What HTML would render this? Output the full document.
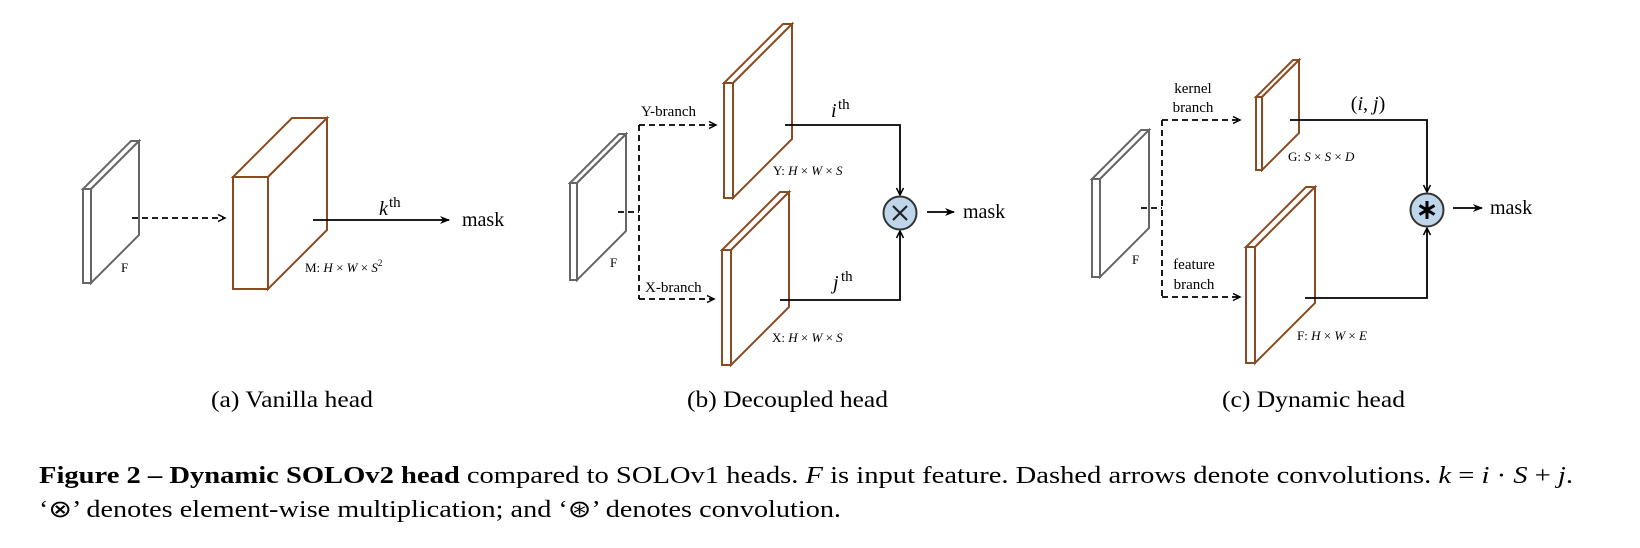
<!DOCTYPE html>
<html><head><meta charset="utf-8"><style>
html,body{margin:0;padding:0;background:#fff;}
svg{display:block;}
text{font-family:"Liberation Serif","Times New Roman",serif;fill:#000;}
.it{font-style:italic;}
</style></head><body>
<svg width="1640" height="548" viewBox="0 0 1640 548" xmlns="http://www.w3.org/2000/svg">
<defs>
<marker id="ah" markerWidth="10" markerHeight="10" refX="8" refY="5" orient="auto" markerUnits="userSpaceOnUse">
<path d="M1,1.5 L8,5 L1,8.5" fill="none" stroke="#000" stroke-width="1.5"/>
</marker>
<marker id="ahf" markerWidth="12" markerHeight="10" refX="9" refY="5" orient="auto" markerUnits="userSpaceOnUse">
<path d="M0,1 L10,5 L0,9 L3,5 Z" fill="#000"/>
</marker>
</defs>
<g fill="#fff" stroke-width="2" stroke-linejoin="miter">
<g stroke="#666"><polygon points="83,189 91,189 139,141 131,141"/><polygon points="91,189 139,141 139,235 91,283"/><rect x="83" y="189" width="8" height="94"/></g>
<g stroke="#8a4a22"><polygon points="233,177 268,177 327,118 292,118"/><polygon points="268,177 327,118 327,230 268,289"/><rect x="233" y="177" width="35" height="112"/></g>
<g stroke="#666"><polygon points="570,183 577,183 626,134 619,134"/><polygon points="577,183 626,134 626,231 577,280"/><rect x="570" y="183" width="7" height="97"/></g>
<g stroke="#8a4a22"><polygon points="724,83 733,83 792,24 783,24"/><polygon points="733,83 792,24 792,139 733,198"/><rect x="724" y="83" width="9" height="115"/></g>
<g stroke="#8a4a22"><polygon points="722,250 731,250 789,192 780,192"/><polygon points="731,250 789,192 789,307 731,365"/><rect x="722" y="250" width="9" height="115"/></g>
<g stroke="#666"><polygon points="1092,179 1100,179 1149,130 1141,130"/><polygon points="1100,179 1149,130 1149,228 1100,277"/><rect x="1092" y="179" width="8" height="98"/></g>
<g stroke="#8a4a22"><polygon points="1256,97 1262,97 1299,60 1293,60"/><polygon points="1262,97 1299,60 1299,133 1262,170"/><rect x="1256" y="97" width="6" height="73"/></g>
<g stroke="#8a4a22"><polygon points="1246,247 1255,247 1315,187 1306,187"/><polygon points="1255,247 1315,187 1315,303 1255,363"/><rect x="1246" y="247" width="9" height="116"/></g>
</g>

<g fill="none" stroke="#000" stroke-width="1.8">
<line x1="132" y1="218" x2="225" y2="218" stroke-dasharray="6,4" marker-end="url(#ah)"/>
<line x1="313" y1="220" x2="449" y2="220" marker-end="url(#ahf)"/>
<path d="M618,212 H639 M639,125 V299" stroke-dasharray="6,4"/>
<line x1="639" y1="125" x2="716" y2="125" stroke-dasharray="6,4" marker-end="url(#ah)"/>
<line x1="639" y1="299" x2="714" y2="299" stroke-dasharray="6,4" marker-end="url(#ah)"/>
<path d="M785,125 H900 V195" marker-end="url(#ah)"/>
<path d="M780,300 H900 V231" marker-end="url(#ah)"/>
<line x1="927" y1="212" x2="954" y2="212" marker-end="url(#ahf)"/>
<path d="M1141,208 H1162 M1162,120 V297" stroke-dasharray="6,4"/>
<line x1="1162" y1="120" x2="1240" y2="120" stroke-dasharray="6,4" marker-end="url(#ah)"/>
<line x1="1162" y1="297" x2="1240" y2="297" stroke-dasharray="6,4" marker-end="url(#ah)"/>
<path d="M1290,120 H1427 V192" marker-end="url(#ah)"/>
<path d="M1305,298 H1427 V228" marker-end="url(#ah)"/>
<line x1="1453" y1="208" x2="1482" y2="208" marker-end="url(#ahf)"/>
</g>

<circle cx="900" cy="213" r="16.5" fill="#bed5ea" stroke="#333" stroke-width="2"/>
<path d="M893,206 L907,220 M907,206 L893,220" stroke="#222" stroke-width="2.2"/>
<circle cx="1427" cy="210" r="16.5" fill="#bed5ea" stroke="#333" stroke-width="2"/>
<path d="M1427,201 V219 M1419.5,205.5 L1434.5,214.5 M1434.5,205.5 L1419.5,214.5" stroke="#000" stroke-width="3"/>

<g font-size="13">
<text x="121" y="272">F</text>
<text x="305" y="272">M: <tspan class="it">H</tspan> × <tspan class="it">W</tspan> × <tspan class="it">S</tspan><tspan font-size="9" dy="-6">2</tspan></text>
<text x="610" y="267">F</text>
<text x="773" y="175">Y: <tspan class="it">H</tspan> × <tspan class="it">W</tspan> × <tspan class="it">S</tspan></text>
<text x="772" y="342">X: <tspan class="it">H</tspan> × <tspan class="it">W</tspan> × <tspan class="it">S</tspan></text>
<text x="1132" y="264">F</text>
<text x="1288" y="161">G: <tspan class="it">S</tspan> × <tspan class="it">S</tspan> × <tspan class="it">D</tspan></text>
<text x="1297" y="340">F: <tspan class="it">H</tspan> × <tspan class="it">W</tspan> × <tspan class="it">E</tspan></text>
</g>
<g font-size="15">
<text x="641" y="116">Y-branch</text>
<text x="645" y="292">X-branch</text>
<text x="1193" y="93" text-anchor="middle">kernel</text>
<text x="1193" y="112" text-anchor="middle">branch</text>
<text x="1194" y="269" text-anchor="middle">feature</text>
<text x="1194" y="289" text-anchor="middle">branch</text>
</g>
<g font-size="20">
<text x="462" y="226">mask</text>
<text x="963" y="218">mask</text>
<text x="1490" y="214">mask</text>
<text x="379" y="215" class="it">k</text><text x="389" y="207" font-size="15">th</text>
<text x="831" y="117" class="it">i</text><text x="838" y="109" font-size="15">th</text>
<text x="833" y="289" class="it">j</text><text x="841" y="281" font-size="15">th</text>
<text x="1368" y="110" text-anchor="middle">(<tspan class="it">i</tspan>, <tspan class="it">j</tspan>)</text>
</g>

<g font-size="23">
<text x="211" y="407" textLength="162" lengthAdjust="spacingAndGlyphs">(a)  Vanilla head</text>
<text x="687" y="407" textLength="201" lengthAdjust="spacingAndGlyphs">(b)  Decoupled head</text>
<text x="1222" y="407" textLength="183" lengthAdjust="spacingAndGlyphs">(c)  Dynamic head</text>
</g>
<g font-size="24">
<text x="39" y="483" textLength="1534" lengthAdjust="spacingAndGlyphs"><tspan font-weight="bold">Figure 2 – Dynamic SOLOv2 head</tspan> compared to SOLOv1 heads.  <tspan class="it">F</tspan> is input feature. Dashed arrows denote convolutions. <tspan class="it">k</tspan> = <tspan class="it">i</tspan> · <tspan class="it">S</tspan> + <tspan class="it">j</tspan>.</text>
<text x="39" y="517" textLength="802" lengthAdjust="spacingAndGlyphs">‘⊗’ denotes element-wise multiplication; and ‘⊛’ denotes convolution.</text>
</g>
</svg>
</body></html>
